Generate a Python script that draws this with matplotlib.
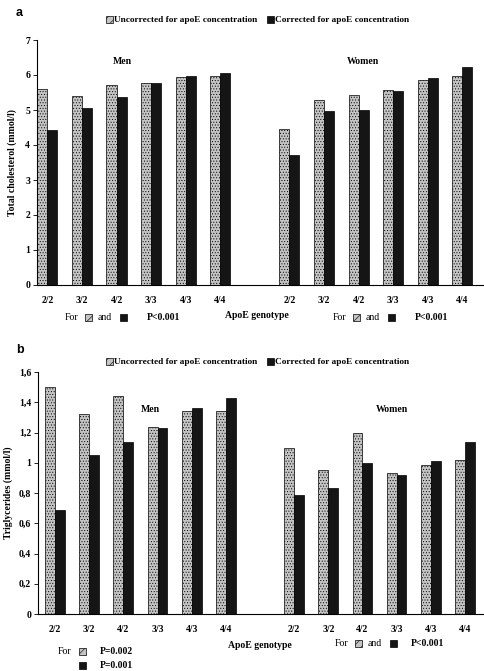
import matplotlib
matplotlib.use("Agg")
import matplotlib.pyplot as plt
from matplotlib.patches import Rectangle

plt.rcParams["font.family"] = ["Liberation Serif", "DejaVu Serif"]
plt.rcParams["font.weight"] = "bold"
plt.rcParams["axes.labelweight"] = "bold"
plt.rcParams["hatch.linewidth"] = 0.4

genotypes = ["2/2", "3/2", "4/2", "3/3", "4/3", "4/4"]
slots = [0, 1, 2, 3, 4, 5, 7, 8, 9, 10, 11, 12]
tick_labels = genotypes + genotypes

# panel a: total cholesterol, men then women
chol_uncorr = [5.59, 5.40, 5.71, 5.77, 5.95, 5.96, 4.47, 5.30, 5.44, 5.58, 5.85, 5.97]
chol_corr = [4.42, 5.05, 5.36, 5.77, 5.98, 6.05, 3.70, 4.96, 4.99, 5.55, 5.91, 6.22]

# panel b: triglycerides
tg_uncorr = [1.50, 1.32, 1.44, 1.235, 1.34, 1.345, 1.10, 0.95, 1.20, 0.935, 0.985, 1.02]
tg_corr = [0.69, 1.05, 1.14, 1.23, 1.365, 1.43, 0.79, 0.83, 1.00, 0.92, 1.01, 1.14]
tg_ticks = [0, 0.2, 0.4, 0.6, 0.8, 1.0, 1.2, 1.4, 1.6]
tg_tick_labels = ["0", "0,2", "0,4", "0,6", "0,8", "1", "1,2", "1,4", "1,6"]

W, H = 485, 671
fig = plt.figure(figsize=(W / 100, H / 100), dpi=100)

LIGHT = "#c4c4c4"
DARK = "#151515"
FS = 7


def fx(px):
    return px / W


def fy(py):
    return 1 - py / H


def bars(ax, unc, cor):
    bw = 0.29
    xs = slots
    ax.bar([x - bw / 2 for x in xs], unc, bw, color=LIGHT, edgecolor="black",
           linewidth=0.5, hatch="......")
    ax.bar([x + bw / 2 for x in xs], cor, bw, color=DARK, edgecolor="black",
           linewidth=0.5)
    ax.spines["top"].set_visible(False)
    ax.spines["right"].set_visible(False)
    ax.set_xticks(slots)
    ax.set_xticklabels(tick_labels, fontsize=FS, fontweight="bold")
    ax.tick_params(axis="x", length=0, pad=8)
    ax.tick_params(axis="y", length=3, width=0.6, labelsize=FS, pad=2)
    for lab in ax.get_yticklabels():
        lab.set_fontweight("bold")


def square(px, py, dark, size=7):
    r = Rectangle((fx(px), fy(py + size)), size / W, size / H,
                  transform=fig.transFigure, facecolor=DARK if dark else LIGHT,
                  edgecolor="black", linewidth=0.5,
                  hatch=None if dark else "////")
    fig.add_artist(r)


def legend(py):
    square(106, py - 4, False)
    fig.text(fx(114), fy(py), "Uncorrected for apoE concentration", fontsize=6.7,
             va="center", ha="left")
    square(267, py - 4, True)
    fig.text(fx(275), fy(py), "Corrected for apoE concentration", fontsize=6.7,
             va="center", ha="left")


# ---- panel a ----
axa = fig.add_axes([fx(37), fy(285), fx(483 - 37), (285 - 40) / H])
bars(axa, chol_uncorr, chol_corr)
axa.set_xlim(-0.3, 12.6)
axa.set_ylim(0, 7)
axa.set_yticks(range(0, 8))
axa.set_ylabel("Total cholesterol (mmol/l)", fontsize=FS, labelpad=6)
fig.text(fx(16), fy(13), "a", fontsize=9, family="Liberation Sans", va="center")
legend(20)
fig.text(fx(122), fy(62), "Men", fontsize=FS, ha="center", va="center")
fig.text(fx(363), fy(62), "Women", fontsize=FS, ha="center", va="center")
fig.text(fx(257), fy(315), "ApoE genotype", fontsize=FS, ha="center", va="center")
for x0 in (65, 333):
    fig.text(fx(x0), fy(318), "For", fontsize=FS, weight="normal", va="center")
    square(x0 + 20, 314, False)
    fig.text(fx(x0 + 33), fy(318), "and", fontsize=FS, weight="normal", va="center")
    square(x0 + 55, 314, True)
    fig.text(fx(x0 + 82), fy(318), "P<0.001", fontsize=FS, va="center")

# ---- panel b ----
axb = fig.add_axes([fx(38), fy(614), fx(483 - 38), (614 - 372) / H])
bars(axb, tg_uncorr, tg_corr)
axb.set_xlim(-0.5, 12.53)
axb.set_ylim(0, 1.6)
axb.set_yticks(tg_ticks)
axb.set_yticklabels(tg_tick_labels)
for lab in axb.get_yticklabels():
    lab.set_fontweight("bold")
axb.set_ylabel("Triglycerides (mmol/l)", fontsize=FS, labelpad=4)
fig.text(fx(16), fy(350), "b", fontsize=9, family="Liberation Sans", va="center")
legend(362)
fig.text(fx(150), fy(410), "Men", fontsize=FS, ha="center", va="center")
fig.text(fx(392), fy(410), "Women", fontsize=FS, ha="center", va="center")
fig.text(fx(260), fy(645), "ApoE genotype", fontsize=FS, ha="center", va="center")
fig.text(fx(58), fy(652), "For", fontsize=FS, weight="normal", va="center")
square(79, 648, False)
fig.text(fx(100), fy(652), "P=0.002", fontsize=FS, va="center")
square(79, 662, True)
fig.text(fx(100), fy(666), "P=0.001", fontsize=FS, va="center")
x0 = 335
fig.text(fx(x0), fy(644), "For", fontsize=FS, weight="normal", va="center")
square(x0 + 20, 640, False)
fig.text(fx(x0 + 33), fy(644), "and", fontsize=FS, weight="normal", va="center")
square(x0 + 55, 640, True)
fig.text(fx(x0 + 76), fy(644), "P<0.001", fontsize=FS, va="center")

fig.savefig("out.png", dpi=100)
